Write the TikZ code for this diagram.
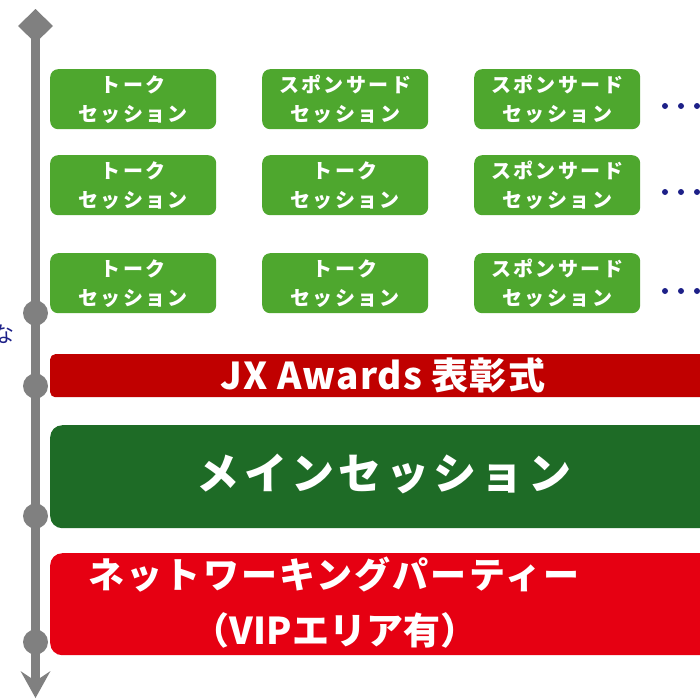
\documentclass[tikz,border=0pt]{standalone}
\usepackage{fontspec}
\setmainfont{Noto Sans CJK JP}
\definecolor{tlgray}{HTML}{808080}
\definecolor{lgreen}{HTML}{4EA72E}
\definecolor{dgreen}{HTML}{1E6B26}
\definecolor{dred}{HTML}{C00000}
\definecolor{bred}{HTML}{E60012}
\definecolor{navy}{HTML}{1D2088}
\begin{document}
\begin{tikzpicture}[x=1pt,y=-1pt,
  sess/.style={fill=lgreen,rounded corners=8pt,minimum width=166pt,minimum height=60pt,
    inner sep=0pt,text=white,align=center,anchor=north west,
    font=\bfseries\fontsize{20}{29}\selectfont\addfontfeature{LetterSpace=12}},
  tdot/.style={circle,fill=navy,minimum size=6pt,inner sep=0pt},
  tlcirc/.style={circle,fill=tlgray,minimum size=25pt,inner sep=0pt},
  bigbox/.style={rounded corners=12pt,inner sep=0pt,anchor=north west},
  bigtext/.style={text=white,inner sep=0pt,font=\bfseries},
]
\useasboundingbox (0,0) rectangle (700,699);
% timeline
\coordinate (tltop) at (35.5,26);
\coordinate (tlbot) at (35.5,684);
\draw[tlgray,line width=9pt] (tltop) -- (tlbot);
\fill[tlgray] (35.5,9) -- (53,26) -- (35.5,43) -- (18,26) -- cycle;
\fill[tlgray] (20.5,671) -- (35.5,698) -- (50.5,671) -- (35.5,681) -- cycle;
\node[tlcirc] (c1) at (35.5,313) {};
\node[tlcirc] (c2) at (35.5,386) {};
\node[tlcirc] (c3) at (35.5,516) {};
\node[tlcirc] (c4) at (35.5,642) {};
\node[text=navy,font=\fontsize{22}{22}\selectfont,inner sep=0pt] (na) at (3,334) {な};
% session boxes
\node[sess] (s11) at (50,69) {トーク\\セッション};
\node[sess] (s12) at (262,69) {スポンサード\\セッション};
\node[sess] (s13) at (474,69) {スポンサード\\セッション};
\node[sess] (s21) at (50,155) {トーク\\セッション};
\node[sess] (s22) at (262,155) {トーク\\セッション};
\node[sess] (s23) at (474,155) {スポンサード\\セッション};
\node[sess] (s31) at (50,253) {トーク\\セッション};
\node[sess] (s32) at (262,253) {トーク\\セッション};
\node[sess] (s33) at (474,253) {スポンサード\\セッション};
% dots
\foreach \r/\y in {1/106,2/192,3/291}{
  \node[tdot] (d\r a) at (665,\y) {};
  \node[tdot] (d\r b) at (681,\y) {};
  \node[tdot] (d\r c) at (697,\y) {};
}
% big boxes
\node[bigbox,fill=dred,rounded corners=5pt,minimum width=680pt,minimum height=43pt] (awards) at (50,354) {};
\node[bigtext,font=\bfseries\fontsize{37}{37}\selectfont\addfontfeature{LetterSpace=3}] (awardst) at (383,375) {JX Awards 表彰式};
\node[bigbox,fill=dgreen,minimum width=680pt,minimum height=103pt] (main) at (50,425) {};
\node[bigtext,font=\bfseries\fontsize{43}{43}\selectfont\addfontfeature{LetterSpace=10}] (maint) at (384,474) {メインセッション};
\node[bigbox,fill=bred,minimum width=680pt,minimum height=102pt] (party) at (50,553) {};
\node[bigtext,font=\bfseries\fontsize{36}{36}\selectfont\addfontfeature{LetterSpace=6}] (partyt1) at (334,575) {ネットワーキングパーティー};
\node[bigtext,font=\bfseries\fontsize{37}{37}\selectfont] (partyt2) at (335,630) {（VIPエリア有）};
\end{tikzpicture}
\end{document}
